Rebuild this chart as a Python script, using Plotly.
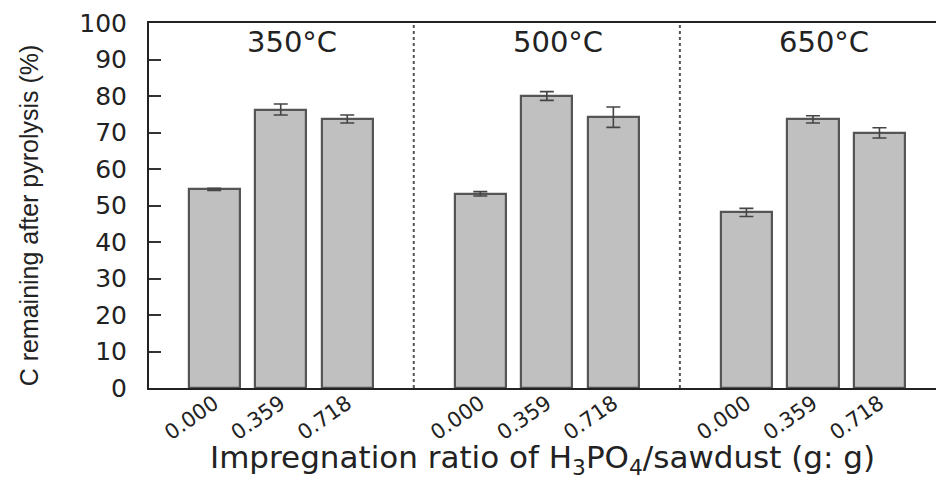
import plotly.graph_objects as go

temperatures = ["350°C", "500°C", "650°C"]
ratios = ["0.000", "0.359", "0.718"]
c_350 = [54.4, 76.3, 73.7]
err_350 = [0.3, 1.5, 1.1]
c_500 = [53.2, 80.0, 74.2]
err_500 = [0.6, 1.2, 2.8]
c_650 = [48.1, 73.6, 69.9]
err_650 = [1.1, 1.0, 1.4]
y_ticks = [0, 10, 20, 30, 40, 50, 60, 70, 80, 90, 100]

groups = [c_350, c_500, c_650]
errors = [err_350, err_500, err_650]
group_step = len(ratios) + 1

xs, ys, es, labels = [], [], [], []
for g, (vals, errs) in enumerate(zip(groups, errors)):
    for i, (v, e) in enumerate(zip(vals, errs)):
        xs.append(g * group_step + i)
        ys.append(v)
        es.append(e)
        labels.append(ratios[i])

TICK_FONT = "DejaVu Sans"
TXT = "#222222"

fig = go.Figure()
fig.add_trace(go.Bar(
    x=xs, y=ys, width=0.77,
    marker=dict(color="#c0c0c0", line=dict(color="#555555", width=2.2)),
    error_y=dict(type="data", array=es, visible=True, color="#444444",
                 thickness=1.6, width=7),
    showlegend=False, hoverinfo="skip",
))

shapes = []
for g in range(1, len(temperatures)):
    xpos = g * group_step - 1
    shapes.append(dict(type="line", xref="x", yref="paper", x0=xpos, x1=xpos,
                       y0=0, y1=1, line=dict(color="#555555", width=2, dash="dot")))

annotations = []
for g, t in enumerate(temperatures):
    annotations.append(dict(x=g * group_step + 1.17, y=94.8, xref="x", yref="y",
                            text=t, showarrow=False,
                            font=dict(family=TICK_FONT, size=29, color=TXT),
                            xanchor="center", yanchor="middle"))
annotations.append(dict(x=-0.152, y=0.474, xref="paper", yref="paper",
                        text="C remaining after pyrolysis (%)", showarrow=False,
                        textangle=-90,
                        font=dict(family="Liberation Sans", size=25, color=TXT),
                        xanchor="center", yanchor="middle"))
annotations.append(dict(x=0.5, y=-0.196, xref="paper", yref="paper",
                        text="Impregnation ratio of H<sub>3</sub>PO<sub>4</sub>/sawdust (g: g)",
                        showarrow=False,
                        font=dict(family=TICK_FONT, size=31, color=TXT),
                        xanchor="center", yanchor="middle"))

fig.update_layout(
    width=936, height=480,
    margin=dict(l=149, r=0, t=23, b=92),
    paper_bgcolor="white", plot_bgcolor="white",
    shapes=shapes,
    annotations=annotations,
    bargap=0,
)
fig.update_xaxes(
    range=[-0.98, 10.85],
    tickmode="array", tickvals=xs, ticktext=labels, tickangle=-35,
    tickfont=dict(family=TICK_FONT, size=21, color=TXT),
    ticklabelstandoff=-7,
    showline=True, linecolor="#222222", linewidth=2, mirror=True,
    ticks="", showgrid=False, zeroline=False,
)
fig.update_yaxes(
    range=[0, 100],
    tickmode="array", tickvals=y_ticks,
    tickfont=dict(family=TICK_FONT, size=25, color=TXT),
    ticklabelstandoff=15,
    showline=True, linecolor="#222222", linewidth=2, mirror=False,
    ticks="inside", ticklen=12, tickwidth=1.5, tickcolor="#333333",
    showgrid=False, zeroline=False,
)

fig.write_html("out.html", config={"displayModeBar": False},
               post_script="document.body.style.margin='0';")
